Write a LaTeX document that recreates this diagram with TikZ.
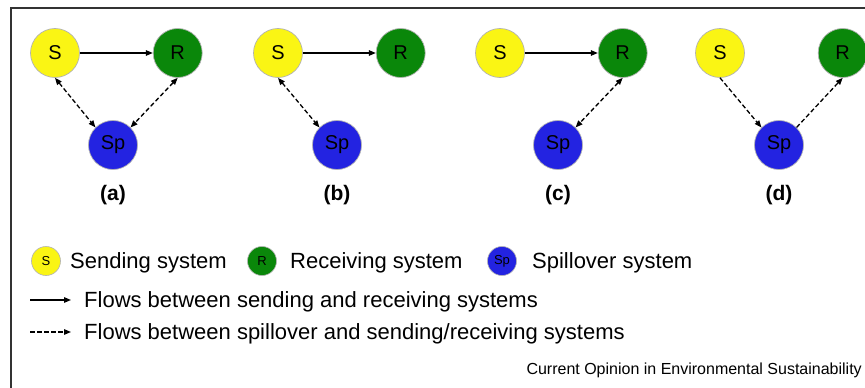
\documentclass[tikz,border=0pt]{standalone}
\usepackage{fontspec}
\setmainfont{Liberation Sans}
\usetikzlibrary{arrows.meta,positioning}
\definecolor{sendyel}{RGB}{250,245,20}
\definecolor{recgrn}{RGB}{10,135,10}
\definecolor{spblue}{RGB}{35,35,225}

\begin{document}
\begin{tikzpicture}[x=1pt,y=-1pt,>={Triangle[length=7pt,width=5.5pt]},
                    sys/.style={circle,draw=gray!60,line width=0.7pt,minimum size=49pt,inner sep=0pt,font=\fontsize{20}{20}\selectfont},
                    key/.style={circle,draw=gray!60,line width=0.6pt,minimum size=29pt,inner sep=0pt,font=\fontsize{13}{13}\selectfont},
                    flow/.style={->,line width=1.3pt},
                    spill/.style={flow,dash pattern=on 4.5pt off 2.5pt},
                    tag/.style={font=\fontsize{21}{21}\selectfont\bfseries},
                    legtext/.style={anchor=base west,inner sep=0pt,font=\fontsize{22}{22}\selectfont}]
\useasboundingbox (0,0) rectangle (865,388);
\draw[line width=1.5pt,black!80] (11,388) -- (11,8) -- (865,8);

% (a)
\node[sys,fill=sendyel] (sa) at (55,53) {S};
\node[sys,fill=recgrn,right=73pt of sa] (ra) {R} edge[flow,<-] (sa);
\node[sys,fill=spblue] (spa) at (113,145) {Sp};
\draw[spill,<->] (sa.south) -- (spa.north west);
\draw[spill,<->] (ra.south) -- (spa.north east);
\node[tag,below=12pt of spa] (taga) {(a)};

% (b)
\node[sys,fill=sendyel] (sb) at (278,53) {S};
\node[sys,fill=recgrn,right=73pt of sb] (rb) {R} edge[flow,<-] (sb);
\node[sys,fill=spblue] (spb) at (337,145) {Sp};
\draw[spill,<->] (sb.south) -- (spb.north west);
\node[tag,below=12pt of spb] (tagb) {(b)};

% (c)
\node[sys,fill=sendyel] (sc) at (500,53) {S};
\node[sys,fill=recgrn,right=73pt of sc] (rc) {R} edge[flow,<-] (sc);
\node[sys,fill=spblue] (spc) at (558,145) {Sp};
\draw[spill,<->] (rc.south) -- (spc.north east);
\node[tag,below=12pt of spc] (tagc) {(c)};

% (d)
\node[sys,fill=sendyel] (sd) at (720,53) {S};
\node[sys,fill=recgrn,right=73pt of sd] (rd) {R};
\node[sys,fill=spblue] (spd) at (779,145) {Sp};
\draw[spill] (sd.south) -- (spd.north west);
\draw[spill] (spd.north east) -- (rd.south);
\node[tag,below=12pt of spd] (tagd) {(d)};

% legend
\node[key,fill=sendyel] (ks) at (46,261) {S};
\node[legtext] (ts) at (70,268) {Sending system};
\node[key,fill=recgrn] (kr) at (262,261) {R};
\node[legtext] (tr) at (290,268) {Receiving system};
\node[key,fill=spblue] (ksp) at (502,261) {Sp};
\node[legtext] (tsp) at (532,268) {Spillover system};

\coordinate (fa1) at (30,300);
\coordinate (fa2) at (71,300);
\draw[flow] (fa1) -- (fa2);
\node[legtext] (tfa) at (84,307) {Flows between sending and receiving systems};
\coordinate (fb1) at (30,332);
\coordinate (fb2) at (71,332);
\draw[spill] (fb1) -- (fb2);
\node[legtext] (tfb) at (84,339) {Flows between spillover and sending/receiving systems};

\node[anchor=base east,inner sep=0pt,font=\fontsize{16}{16}\selectfont] (credit) at (862,374) {Current Opinion in Environmental Sustainability};
\end{tikzpicture}
\end{document}
